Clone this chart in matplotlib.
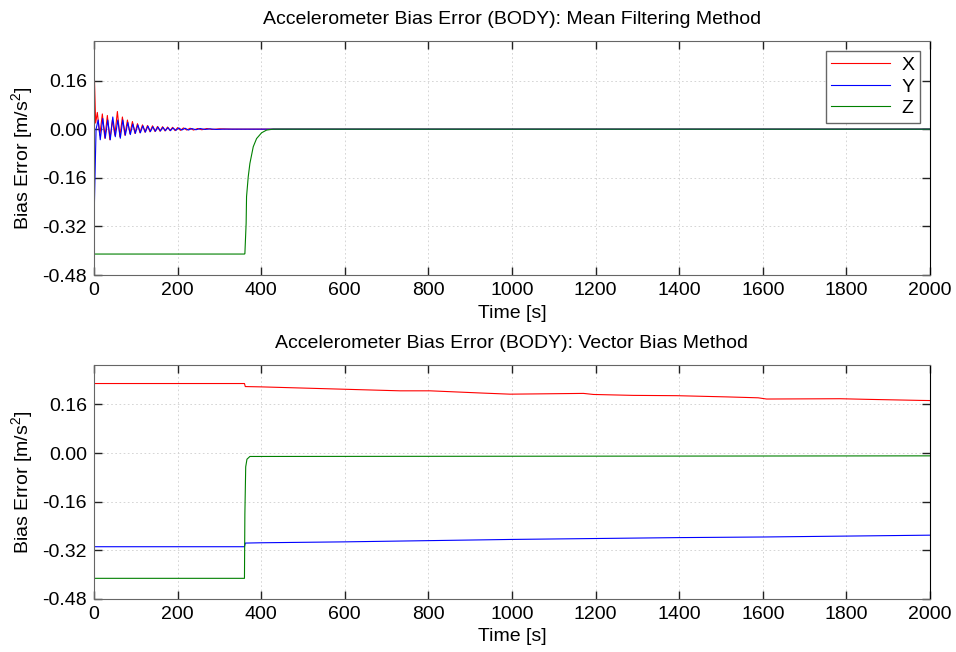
import matplotlib
matplotlib.use("Agg")
import matplotlib.pyplot as plt
from matplotlib.ticker import FixedLocator, FuncFormatter

plt.rcParams["font.family"] = ["Liberation Sans", "DejaVu Sans"]
plt.rcParams["mathtext.fontset"] = "custom"
plt.rcParams["mathtext.rm"] = "Liberation Sans"
plt.rcParams["mathtext.it"] = "Liberation Sans:italic"
plt.rcParams["axes.unicode_minus"] = False

# ---------------- Mean filtering method ----------------
mf_x_t = [0, 4, 8, 14, 20, 26, 32, 38, 44, 50, 56, 62, 68, 74, 80, 86, 92, 98,
          104, 110, 116, 122, 128, 134, 140, 146, 152, 158, 164, 170, 176, 182,
          188, 194, 200, 207, 214, 222, 230, 238, 248, 258, 270, 282, 300, 330,
          360, 2000]
mf_x_v = [0.22, 0.02, 0.055, -0.02, 0.05, -0.03, 0.045, -0.035, 0.03, -0.02,
          0.058, -0.025, 0.04, -0.02, 0.03, -0.015, 0.025, -0.014, 0.018, -0.012,
          0.014, -0.01, 0.012, -0.009, 0.011, -0.008, 0.009, -0.007, 0.008,
          -0.006, 0.007, -0.005, 0.006, -0.005, 0.005, -0.004, 0.004, -0.003,
          0.003, -0.003, 0.002, -0.002, 0.002, -0.001, 0.001, 0.0, 0.0, 0.0]

mf_y_t = [0, 5, 10, 15, 21, 27, 33, 39, 45, 51, 57, 63, 69, 75, 81, 87, 93, 99,
          105, 111, 117, 123, 129, 135, 141, 147, 153, 159, 165, 171, 177, 183,
          189, 196, 203, 210, 218, 226, 234, 244, 254, 266, 278, 292, 310, 360,
          2000]
mf_y_v = [-0.31, 0.0, 0.03, -0.035, 0.035, -0.03, 0.03, -0.035, 0.04, -0.025,
          0.03, -0.03, 0.03, -0.02, 0.022, -0.018, 0.017, -0.014, 0.014, -0.012,
          0.011, -0.01, 0.01, -0.008, 0.008, -0.007, 0.007, -0.006, 0.006,
          -0.005, 0.005, -0.005, 0.004, -0.004, 0.004, -0.003, 0.003, -0.003,
          0.002, -0.002, 0.002, -0.001, 0.001, -0.001, 0.0, 0.0, 0.0]

mf_z_t = [0, 360, 361, 364, 365, 369, 373, 381, 389, 401, 413, 429, 2000]
mf_z_v = [-0.411, -0.411, -0.41, -0.31, -0.222, -0.157, -0.113, -0.058,
          -0.031, -0.012, -0.003, 0.0, 0.0]

# ---------------- Vector bias method ----------------
vb_x_t = [0, 360, 362, 400, 604, 732, 804, 931, 995, 1067, 1171, 1195, 1290,
          1394, 1514, 1589, 1609, 1785, 1848, 1976, 2000]
vb_x_v = [0.229, 0.229, 0.219, 0.218, 0.210, 0.205, 0.205, 0.1975, 0.194,
          0.195, 0.1965, 0.193, 0.190, 0.189, 0.185, 0.182, 0.178, 0.179,
          0.177, 0.1735, 0.173]

vb_y_t = [0, 360, 362, 400, 600, 800, 1000, 1200, 1400, 1600, 1800, 2000]
vb_y_v = [-0.308, -0.308, -0.296, -0.295, -0.292, -0.288, -0.284, -0.281,
          -0.278, -0.276, -0.273, -0.270]

vb_z_t = [0, 360, 361, 363, 366, 373, 400, 2000]
vb_z_v = [-0.412, -0.412, -0.2, -0.045, -0.02, -0.011, -0.011, -0.009]

x_ticks = list(range(0, 2001, 200))
y_ticks = [-0.48, -0.32, -0.16, 0.00, 0.16]
y_lim = (-0.48, 0.29)

colors = {"X": "#ff0000", "Y": "#0000ff", "Z": "#008000"}
FS = 14

fig = plt.figure(figsize=(9.56, 6.52), dpi=100)
ax1 = fig.add_axes([0.0983, 0.5782, 0.8745, 0.3589])
ax2 = fig.add_axes([0.0983, 0.0813, 0.8745, 0.3589])


def style(ax, title):
    ax.set_xlim(0, 2000)
    ax.set_ylim(*y_lim)
    ax.xaxis.set_major_locator(FixedLocator(x_ticks))
    ax.yaxis.set_major_locator(FixedLocator(y_ticks))
    ax.yaxis.set_major_formatter(FuncFormatter(lambda v, p: f"{v:.2f}"))
    ax.tick_params(direction="in", length=6, width=1, labelsize=FS,
                   top=True, right=True, pad=5, colors="#222222",
                   labelcolor="black")
    ax.grid(True, linestyle=(0, (2, 3)), color="#cfcfcf", linewidth=0.6)
    for side in ["left", "top", "bottom"]:
        ax.spines[side].set_color("#666666")
    ax.spines["right"].set_color("black")
    ax.set_xlabel("Time [s]", fontsize=FS, labelpad=4)
    ax.set_ylabel(r"Bias Error [m/s$^{2}$]", fontsize=FS, labelpad=5)
    ax.set_title(title, fontsize=FS, pad=12)


ax1.plot(mf_x_t, mf_x_v, color=colors["X"], lw=0.8, label="X")
ax1.plot(mf_y_t, mf_y_v, color=colors["Y"], lw=0.8, label="Y")
ax1.plot(mf_z_t, mf_z_v, color=colors["Z"], lw=0.8, label="Z")
style(ax1, "Accelerometer Bias Error (BODY): Mean Filtering Method")
leg = ax1.legend(loc="upper right", fontsize=FS, handlelength=3.0,
                 handletextpad=0.6, labelspacing=0.2, borderpad=0.3,
                 borderaxespad=0.5, fancybox=False, framealpha=1)
leg.get_frame().set_edgecolor("#666666")
leg.get_frame().set_linewidth(1.0)

ax2.plot(vb_x_t, vb_x_v, color=colors["X"], lw=0.8)
ax2.plot(vb_y_t, vb_y_v, color=colors["Y"], lw=0.8)
ax2.plot(vb_z_t, vb_z_v, color=colors["Z"], lw=0.8)
style(ax2, "Accelerometer Bias Error (BODY): Vector Bias Method")

fig.savefig("out.png", dpi=100)
